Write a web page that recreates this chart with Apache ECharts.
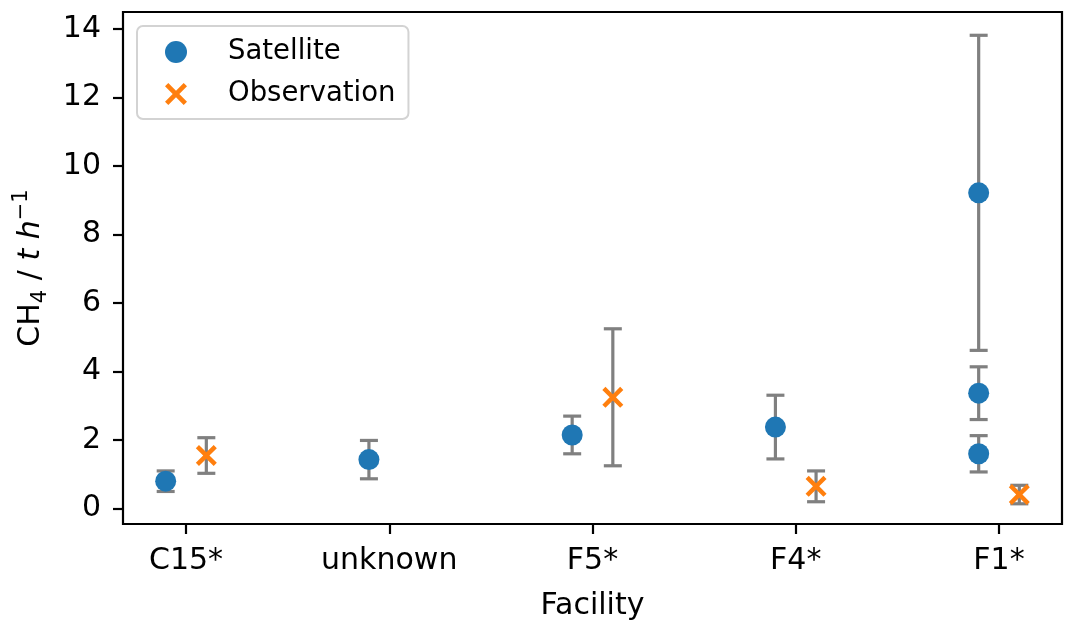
<!DOCTYPE html>
<html>
<head>
<meta charset="utf-8">
<script src="https://cdn.jsdelivr.net/npm/echarts@6/dist/echarts.min.js"></script>
<style>html,body{margin:0;padding:0;background:#fff;}#c{width:1078px;height:632px;}</style>
</head>
<body>
<div id="c"></div>
<script>
const categories = ['C15*', 'unknown', 'F5*', 'F4*', 'F1*'];
const satIndex = [0, 1, 2, 3, 4, 4, 4];
const satValue = [0.80, 1.43, 2.15, 2.38, 9.22, 3.37, 1.60];
const satError = [0.30, 0.56, 0.55, 0.93, 4.60, 0.77, 0.53];
const obsIndex = [0, 2, 3, 4];
const obsValue = [1.55, 3.25, 0.65, 0.41];
const obsError = [0.52, 2.00, 0.45, 0.27];
const yTicks = [0, 2, 4, 6, 8, 10, 12, 14];

const SAT_OFF = -0.1, OBS_OFF = 0.1;
const FONT = 'DejaVu Sans';
const xMark = 'path://M3,0 L10,7 L17,0 L20,3 L13,10 L20,17 L17,20 L10,13 L3,20 L0,17 L7,10 L0,3 Z';

const satPts = satIndex.map((c, i) => [c + SAT_OFF, satValue[i], satError[i]]);
const obsPts = obsIndex.map((c, i) => [c + OBS_OFF, obsValue[i], obsError[i]]);
const errPts = satPts.concat(obsPts);

function renderErr(params, api) {
  const x = api.value(0), y = api.value(1), e = api.value(2);
  const top = api.coord([x, y + e]);
  const bot = api.coord([x, y - e]);
  const hw = 9;
  const st = { stroke: '#808080', lineWidth: 3.2 };
  return {
    type: 'group',
    children: [
      { type: 'line', shape: { x1: top[0], y1: top[1], x2: bot[0], y2: bot[1] }, style: st },
      { type: 'line', shape: { x1: top[0] - hw, y1: top[1], x2: top[0] + hw, y2: top[1] }, style: st },
      { type: 'line', shape: { x1: bot[0] - hw, y1: bot[1], x2: bot[0] + hw, y2: bot[1] }, style: st }
    ]
  };
}

const chart = echarts.init(document.getElementById('c'), null, { renderer: 'canvas' });
chart.setOption({
  animation: false,
  backgroundColor: '#fff',
  textStyle: { fontFamily: FONT },
  grid: { left: 123, right: 16, top: 12, bottom: 108, show: true, borderColor: '#000', borderWidth: 2.2, backgroundColor: 'transparent' },
  legend: {
    orient: 'vertical',
    left: 137, top: 26,
    padding: [10, 13, 9, 28],
    itemGap: 10,
    itemWidth: 22, itemHeight: 22,
    backgroundColor: '#fff',
    borderColor: '#d3d3d3', borderWidth: 2, borderRadius: 6,
    textStyle: { fontFamily: FONT, fontSize: 27.5, color: '#000', padding: [0, 0, 0, 36], lineHeight: 32 },
    data: [
      { name: 'Satellite', icon: 'circle' },
      { name: 'Observation', icon: xMark }
    ]
  },
  xAxis: {
    type: 'value',
    min: -0.31, max: 4.31,
    name: 'Facility', nameLocation: 'middle', nameGap: 67,
    nameTextStyle: { fontFamily: FONT, fontSize: 30, color: '#000' },
    axisLine: { show: false, onZero: false },
    splitLine: { show: false },
    axisTick: { show: true, customValues: [0, 1, 2, 3, 4], length: 10, inside: false, lineStyle: { color: '#000', width: 2.2 } },
    axisLabel: { customValues: [0, 1, 2, 3, 4], formatter: v => categories[Math.round(v)], fontFamily: FONT, fontSize: 30, color: '#000', margin: 22 }
  },
  yAxis: {
    type: 'value',
    min: -0.45, max: 14.5,
    name: '{n|CH}{sub|4}{n| / }{i|t h}{sup|−1}',
    nameLocation: 'middle', nameGap: 72,
    nameTextStyle: {
      fontFamily: FONT, fontSize: 30, color: '#000',
      rich: {
        n: { fontFamily: FONT, fontSize: 30, color: '#000', lineHeight: 40 },
        i: { fontFamily: FONT, fontSize: 30, fontStyle: 'italic', color: '#000', lineHeight: 40 },
        sub: { fontFamily: FONT, fontSize: 21, color: '#000', verticalAlign: 'bottom', lineHeight: 22 },
        sup: { fontFamily: FONT, fontSize: 21, color: '#000', verticalAlign: 'top', lineHeight: 22 }
      }
    },
    axisLine: { show: false, onZero: false },
    splitLine: { show: false },
    axisTick: { show: true, customValues: yTicks, length: 10, lineStyle: { color: '#000', width: 2.2 } },
    axisLabel: { customValues: yTicks, fontFamily: FONT, fontSize: 30, color: '#000', margin: 22 }
  },
  series: [
    {
      name: 'errors', type: 'custom', renderItem: renderErr, data: errPts, z: 1,
      encode: { x: 0, y: 1 }, silent: true
    },
    {
      name: 'Satellite', type: 'scatter', data: satPts, symbol: 'circle', symbolSize: 21, z: 3,
      itemStyle: { color: '#1f77b4', opacity: 1 }
    },
    {
      name: 'Observation', type: 'scatter', data: obsPts, symbol: xMark, symbolSize: 21, z: 4,
      itemStyle: { color: '#ff7f0e', opacity: 1 }
    }
  ]
});
</script>
</body>
</html>
